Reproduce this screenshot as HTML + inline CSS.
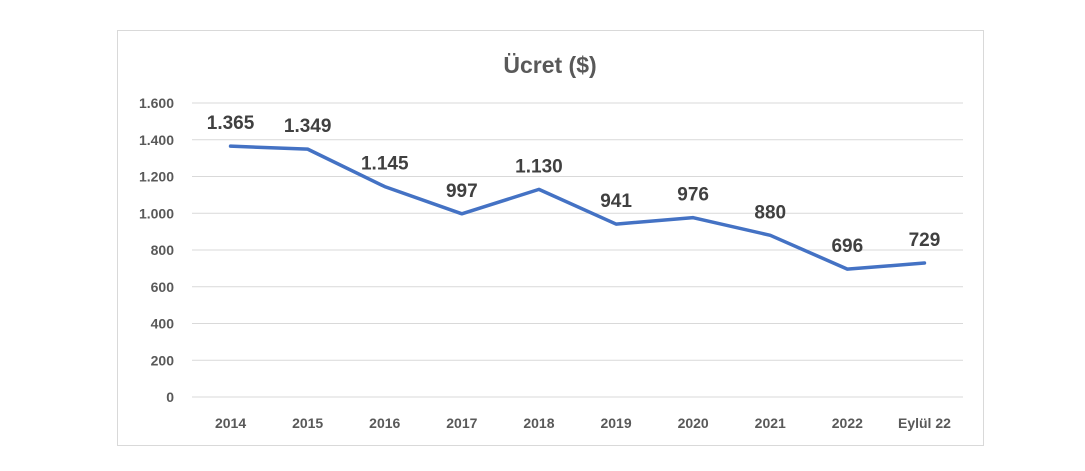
<!DOCTYPE html>
<html><head><meta charset="utf-8"><style>
body{margin:0;background:#fff;width:1085px;height:466px;overflow:hidden;font-family:"Liberation Sans",sans-serif}
</style></head><body>
<svg id="chart" width="1085" height="466" xmlns="http://www.w3.org/2000/svg">
<rect x="117.5" y="30.5" width="866" height="415" fill="#fff" stroke="#d9d9d9"/>
<text x="550" y="73" text-anchor="middle" font-size="23" font-weight="bold" fill="#595959">Ücret ($)</text>
<g id="grid"></g><g id="yticks"></g><g id="xticks"></g><g id="series"></g><g id="labels"></g>
</svg>
<script>
const categories=["2014","2015","2016","2017","2018","2019","2020","2021","2022","Eylül 22"];
const values=[1365,1349,1145,997,1130,941,976,880,696,729];
const valueLabels=["1.365","1.349","1.145","997","1.130","941","976","880","696","729"];
const yTicks=[0,200,400,600,800,1000,1200,1400,1600];
const yTickLabels=["0","200","400","600","800","1.000","1.200","1.400","1.600"];
const NS="http://www.w3.org/2000/svg";
const x0=192,x1=963,y0=397,y1=103,yMax=1600;
const band=(x1-x0)/categories.length;
const xs=i=>x0+band*(i+0.5);
const ys=v=>y0-(v/yMax)*(y0-y1);
function mk(t,a,p){const e=document.createElementNS(NS,t);for(const k in a)e.setAttribute(k,a[k]);p.appendChild(e);return e;}
const grid=document.getElementById('grid'),yt=document.getElementById('yticks'),xt=document.getElementById('xticks'),se=document.getElementById('series'),lb=document.getElementById('labels');
yTicks.forEach((v,i)=>{
 const l=mk('line',{x1:x0,x2:x1,y1:ys(v),y2:ys(v),stroke:'#d9d9d9','stroke-width':1},grid);
 
 
 const t=mk('text',{x:174,y:ys(v)+5,'text-anchor':'end','font-size':14,'font-weight':'bold',fill:'#595959'},yt);
 t.textContent=yTickLabels[i];
 
 
});
categories.forEach((c,i)=>{
 const t=mk('text',{x:xs(i),y:428,'text-anchor':'middle','font-size':14,'font-weight':'bold',fill:'#595959'},xt);
 t.textContent=c;
 
 
});
const p=mk('polyline',{points:values.map((v,i)=>xs(i)+','+ys(v)).join(' '),fill:'none',stroke:'#4472c4','stroke-width':3.5,'stroke-linejoin':'round','stroke-linecap':'round'},se);


values.forEach((v,i)=>{
 const t=mk('text',{x:xs(i),y:ys(v)-17,'text-anchor':'middle','font-size':19,'font-weight':'bold',fill:'#404040'},lb);
 t.textContent=valueLabels[i];
 
 
});
</script>
</body></html>
